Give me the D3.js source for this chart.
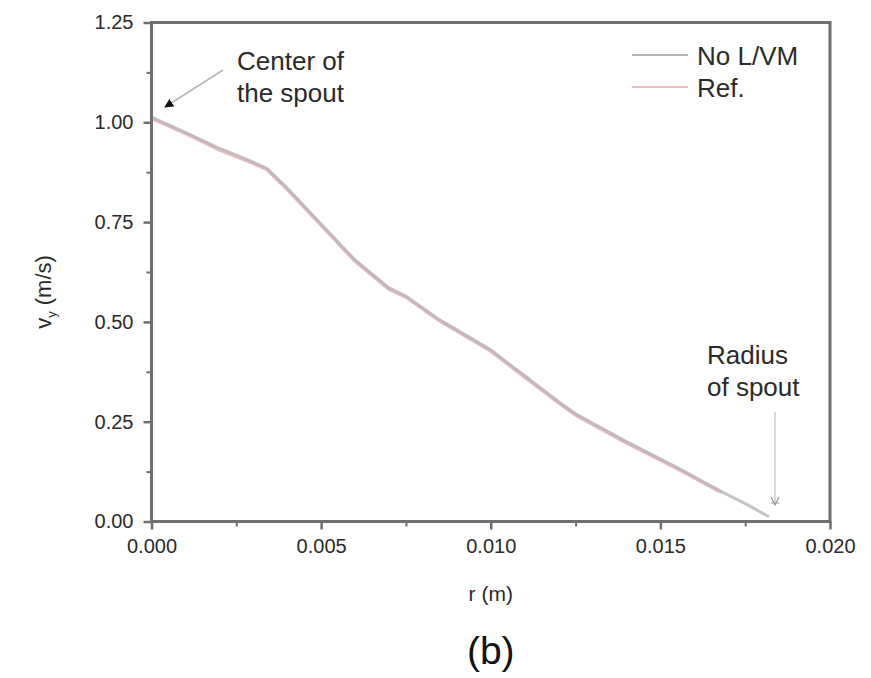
<!DOCTYPE html>
<html>
<head>
<meta charset="utf-8">
<script src="https://cdn.jsdelivr.net/npm/d3@7"></script>
<style>
  html, body { margin: 0; padding: 0; background: #fff; }
  svg { display: block; font-family: "Liberation Sans", Arial, sans-serif; }
</style>
</head>
<body>
<svg id="chart" width="871" height="678"></svg>
<script>
// ---- data ----
const rNoLVM = [0, 0.0010, 0.0020, 0.0030, 0.0034, 0.0040, 0.0050, 0.0060, 0.0070, 0.0075, 0.0085, 0.0100, 0.0110, 0.0120, 0.0125, 0.0140, 0.0155, 0.0168, 0.0175, 0.0182];
const vNoLVM = [1.013, 0.975, 0.935, 0.900, 0.885, 0.835, 0.745, 0.655, 0.585, 0.565, 0.505, 0.430, 0.365, 0.300, 0.270, 0.200, 0.135, 0.075, 0.045, 0.012];
const rRef   = [0, 0.0010, 0.0020, 0.0030, 0.0034, 0.0040, 0.0050, 0.0060, 0.0070, 0.0075, 0.0085, 0.0100, 0.0110, 0.0120, 0.0125, 0.0140, 0.0155, 0.0168];
const vRef   = [1.010, 0.972, 0.931, 0.897, 0.882, 0.832, 0.742, 0.652, 0.582, 0.562, 0.502, 0.427, 0.362, 0.297, 0.267, 0.197, 0.132, 0.073];
const xTicks = [0, 0.005, 0.010, 0.015, 0.020];
const xMinorTicks = [0.0025, 0.0075, 0.0125, 0.0175];
const yTicks = [0, 0.25, 0.50, 0.75, 1.00, 1.25];
const yMinorTicks = [0.125, 0.375, 0.625, 0.875, 1.125];
const seriesNames = ["No L/VM", "Ref."];
const seriesColors = ["#b9b5b6", "#e9bcc4"];

// ---- layout ----
const L = 151.5, R = 830, T = 22.5, B = 521.5;
const svg = d3.select("#chart");
const x = d3.scaleLinear().domain([0, 0.020]).range([L, R]);
const y = d3.scaleLinear().domain([0, 1.25]).range([B, T]);
const axisColor = "#6f6f6f";
const textColor = "#2a2a2a";

// series
const line = d3.line().x(d => x(d[0])).y(d => y(d[1]));
const noData = rNoLVM.map((r, i) => [r, vNoLVM[i]]);
const refData = rRef.map((r, i) => [r, vRef[i]]);
svg.append("path").datum(refData).attr("d", line)
  .attr("fill", "none").attr("stroke", seriesColors[1]).attr("stroke-width", 3.5);
svg.append("path").datum(noData).attr("d", line)
  .attr("fill", "none").attr("stroke", seriesColors[0]).attr("stroke-width", 3).attr("opacity", 0.8);

// frame
svg.append("rect").attr("x", L).attr("y", T).attr("width", R - L).attr("height", B - T)
  .attr("fill", "none").attr("stroke", axisColor).attr("stroke-width", 3);

// axes
const xAxis = d3.axisBottom(x).tickValues(xTicks).tickFormat(d3.format(".3f")).tickSize(8).tickPadding(9);
const gx = svg.append("g").attr("transform", `translate(0,${B})`).call(xAxis);
const yAxis = d3.axisLeft(y).tickValues(yTicks).tickFormat(d3.format(".2f")).tickSize(8).tickPadding(10);
const gy = svg.append("g").attr("transform", `translate(${L},0)`).call(yAxis);
[gx, gy].forEach(g => {
  g.select(".domain").remove();
  g.selectAll(".tick line").attr("stroke", axisColor).attr("stroke-width", 2.5);
  g.selectAll(".tick text").attr("fill", textColor).style("font-size", "20px")
    .style("font-family", "\"Liberation Sans\", Arial, sans-serif");
});
const gxm = svg.append("g").attr("transform", `translate(0,${B})`)
  .call(d3.axisBottom(x).tickValues(xMinorTicks).tickFormat("").tickSize(5));
const gym = svg.append("g").attr("transform", `translate(${L},0)`)
  .call(d3.axisLeft(y).tickValues(yMinorTicks).tickFormat("").tickSize(5));
[gxm, gym].forEach(g => {
  g.select(".domain").remove();
  g.selectAll(".tick line").attr("stroke", axisColor).attr("stroke-width", 2);
});

// axis labels
svg.append("text").attr("x", (L + R) / 2).attr("y", 601).attr("text-anchor", "middle")
  .attr("fill", textColor).style("font-size", "21px").text("r (m)");
const yl = svg.append("text").attr("transform", "translate(51,292) rotate(-90)")
  .attr("text-anchor", "middle").attr("fill", textColor).style("font-size", "22px");
yl.append("tspan").text("v");
yl.append("tspan").attr("dy", 5).style("font-size", "13px").text("y");
yl.append("tspan").attr("dy", -5).text(" (m/s)");

// panel label
svg.append("text").attr("x", (L + R) / 2).attr("y", 664).attr("text-anchor", "middle")
  .attr("fill", "#111").style("font-size", "39px").text("(b)");

// legend
const legend = svg.append("g");
seriesNames.forEach((name, i) => {
  const yy = 55 + i * 32;
  legend.append("line").attr("x1", 632).attr("x2", 688).attr("y1", yy).attr("y2", yy)
    .attr("stroke", seriesColors[i]).attr("stroke-width", 2);
  legend.append("text").attr("x", 697).attr("y", yy + 10).attr("fill", textColor)
    .style("font-size", "26px").text(name);
});

// annotations
svg.append("defs").append("marker").attr("id", "ah").attr("viewBox", "0 0 10 10")
  .attr("refX", 9).attr("refY", 5).attr("markerWidth", 4.5).attr("markerHeight", 4.5)
  .attr("orient", "auto").append("path").attr("d", "M0,0 L10,5 L0,10 z").attr("fill", "#111");
svg.append("line").attr("x1", 223).attr("y1", 70).attr("x2", 165).attr("y2", 107)
  .attr("stroke", "#bbb").attr("stroke-width", 2).attr("marker-end", "url(#ah)");
svg.append("text").attr("x", 237).attr("y", 70).attr("fill", textColor).style("font-size", "26px").text("Center of");
svg.append("text").attr("x", 237).attr("y", 102).attr("fill", textColor).style("font-size", "26px").text("the spout");

svg.append("text").attr("x", 707).attr("y", 364).attr("fill", textColor).style("font-size", "26px").text("Radius");
svg.append("text").attr("x", 707).attr("y", 396).attr("fill", textColor).style("font-size", "26px").text("of spout");
svg.append("line").attr("x1", 775).attr("y1", 412).attr("x2", 775).attr("y2", 505)
  .attr("stroke", "#ccc").attr("stroke-width", 1.5);
svg.append("path").attr("d", "M771,497 L775,505 L779,497 M771,503 L779,503")
  .attr("fill", "none").attr("stroke", "#999").attr("stroke-width", 1.2);
</script>
</body>
</html>
